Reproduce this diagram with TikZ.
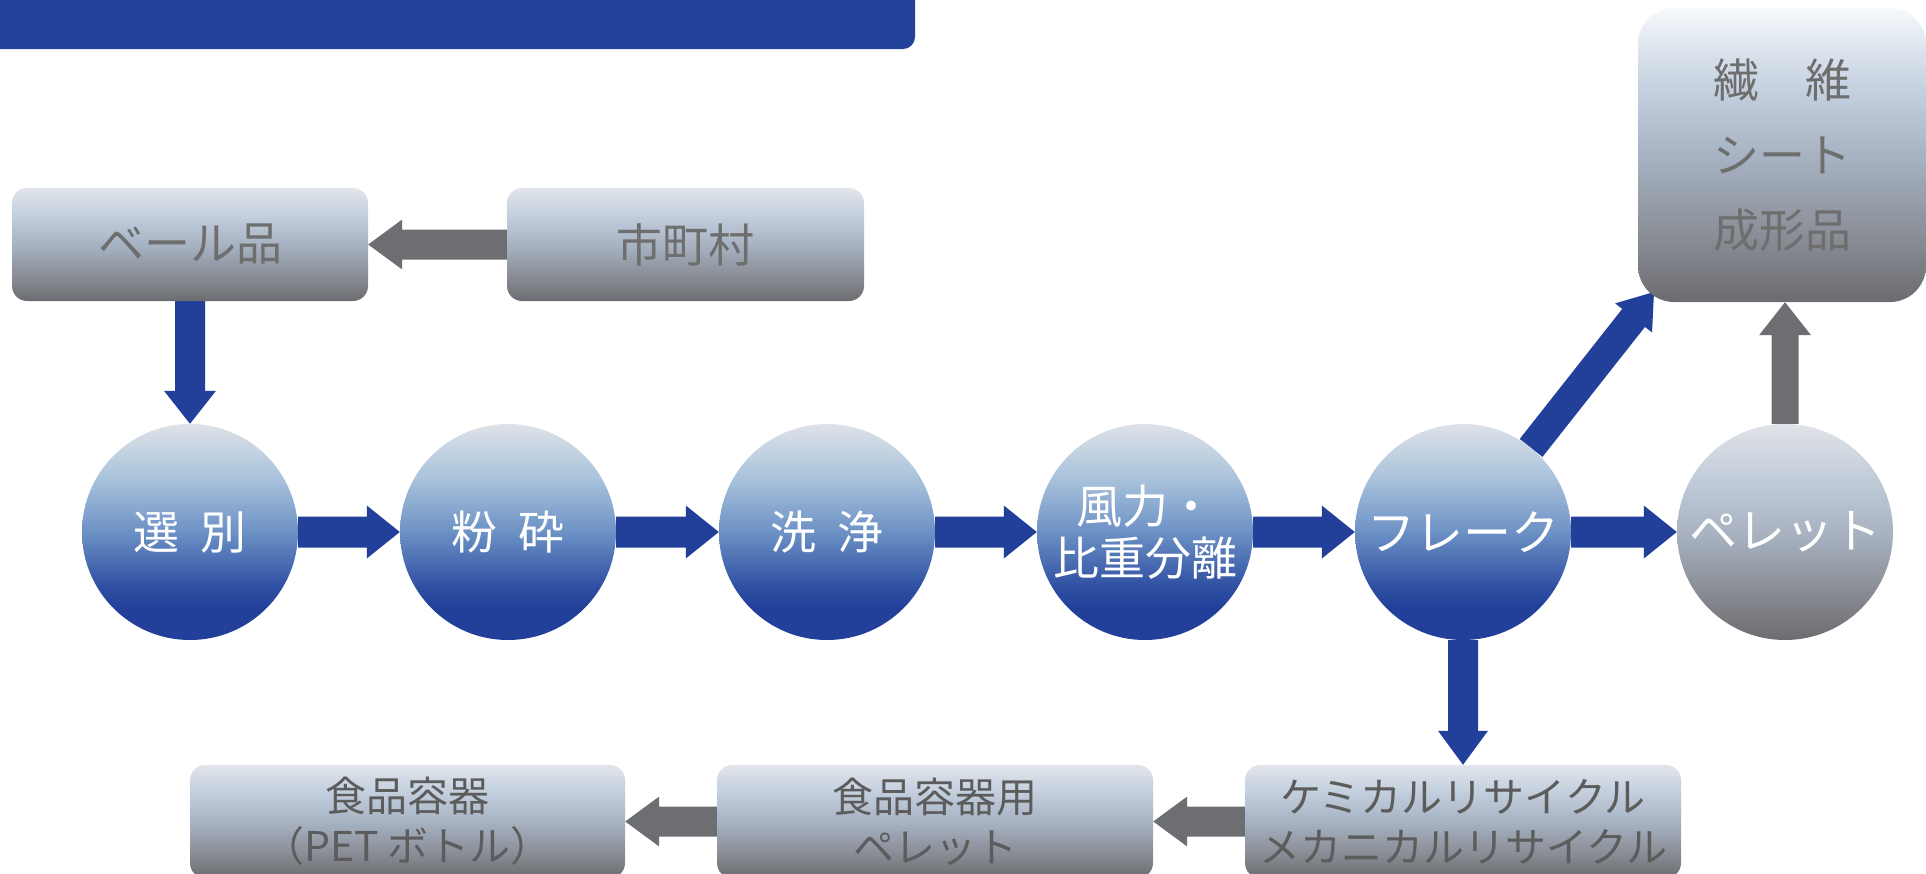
\documentclass[tikz,border=0pt]{standalone}
\usepackage{fontspec}
\setmainfont{Noto Sans CJK JP}
\usetikzlibrary{calc,backgrounds}

\definecolor{abl}{HTML}{22409A}
\definecolor{agr}{HTML}{6D6E71}
\definecolor{bannerblue}{HTML}{22419B}
\definecolor{gtext}{HTML}{6E6E6E}
\definecolor{gtextd}{HTML}{5C5C5C}
% gray box gradient
\definecolor{gb1}{HTML}{E2E5EA}
\definecolor{gb2}{HTML}{C7D3E1}
\definecolor{gb3}{HTML}{A7B3C3}
\definecolor{gb4}{HTML}{878A92}
\definecolor{gb5}{HTML}{6B6C70}
\definecolor{gw1}{HTML}{F6F8FB}
% blue circle gradient
\definecolor{bc1}{HTML}{DFE2E7}
\definecolor{bc2}{HTML}{A9C3DC}
\definecolor{bc3}{HTML}{6C91C5}
\definecolor{bc4}{HTML}{3050A3}
\definecolor{bc5}{HTML}{22409A}
% gray circle gradient
\definecolor{pc1}{HTML}{E0E3E8}
\definecolor{pc2}{HTML}{BDC8D6}
\definecolor{pc3}{HTML}{A3ADBB}
\definecolor{pc4}{HTML}{86888F}
\definecolor{pc5}{HTML}{6C6D70}

\pgfdeclareverticalshading{graybox}{100bp}{color(0bp)=(gb5); color(25bp)=(gb5); color(35bp)=(gb4); color(50bp)=(gb3); color(65bp)=(gb2); color(75bp)=(gb1); color(100bp)=(gb1)}
\pgfdeclareverticalshading{whitebox}{100bp}{color(0bp)=(gb5); color(25bp)=(gb5); color(35bp)=(gb4); color(50bp)=(gb3); color(62bp)=(gb2); color(75bp)=(gw1); color(100bp)=(gw1)}
\pgfdeclareverticalshading{bluecirc}{100bp}{color(0bp)=(bc5); color(25bp)=(bc5); color(32.5bp)=(bc5); color(37.5bp)=(bc4); color(50bp)=(bc3); color(62.5bp)=(bc2); color(75bp)=(bc1); color(100bp)=(bc1)}
\pgfdeclareverticalshading{graycirc}{100bp}{color(0bp)=(pc5); color(25bp)=(pc5); color(35bp)=(pc4); color(47.5bp)=(pc3); color(60bp)=(pc2); color(75bp)=(pc1); color(100bp)=(pc1)}

\newcommand\fatarrow[6]{%
  \coordinate (faA) at (#2);
  \coordinate (faB) at (#3);
  \coordinate (faH) at ($(faB)!#6!(faA)$);
  \fill[#1] ($(faA)!#4!90:(faB)$) -- ($(faH)!#4!90:(faB)$) -- ($(faH)!#5!90:(faB)$) -- (faB)
    -- ($(faH)!#5!-90:(faB)$) -- ($(faH)!#4!-90:(faB)$) -- ($(faA)!#4!-90:(faB)$) -- cycle;
}

\tikzset{
  gbox/.style={rectangle, rounded corners=15pt, shade, shading=graybox, inner sep=0pt, align=center, text=gtext},
  bcirc/.style={circle, minimum size=216pt, inner sep=0pt, shade, shading=bluecirc, text=white, align=center},
  pcirc/.style={circle, minimum size=216pt, inner sep=0pt, shade, shading=graycirc, text=white, align=center},
  topfont/.style={font=\fontsize{46}{52}\selectfont},
  botfont/.style={font=\fontsize{41}{50}\selectfont},
  circfont/.style={font=\fontsize{46}{52}\selectfont},
  barrow/.style={fill=abl},
  garrow/.style={fill=agr},
}

\begin{document}
\begin{tikzpicture}[x=1pt,y=-1pt]
\useasboundingbox (0,0) rectangle (1926,873);
\clip (0,0) rectangle (1926,873);

% banner
\fill[bannerblue, rounded corners=12pt] (-30,-30) rectangle (915,49);

% top boxes
\node[gbox, topfont, minimum width=356pt, minimum height=113pt] (bale) at (190,244.5) {ベール品};
\node[gbox, topfont, minimum width=357pt, minimum height=113pt] (city) at (685.5,244.5) {市町村};

% top right box
\node[rectangle, rounded corners=36pt, shade, shading=whitebox, inner sep=0pt, align=center, text=gtext,
      font=\fontsize{46}{75}\selectfont, minimum width=288pt, minimum height=294pt] (prod) at (1782,155) {繊　維\\シート\\成形品};

% circles
\node[bcirc, circfont] (sort) at (190,532) {選\hspace{22pt}別};
\node[bcirc, circfont] (crush) at (508,532) {粉\hspace{22pt}砕};
\node[bcirc, circfont] (wash) at (827,532) {洗\hspace{22pt}浄};
\node[bcirc, font=\fontsize{46}{52}\selectfont] (sep) at (1145,532) {風力・\\比重分離};
\node[bcirc, font=\fontsize{48}{52}\selectfont] (flake) at (1463,532) {フレーク};
\node[pcirc, font=\fontsize{48}{52}\selectfont] (pellet) at (1785,532) {ペレット};

% bottom boxes
\node[gbox, botfont, text=gtextd, minimum width=435pt, minimum height=113pt] (food) at (407.5,821.5) {食品容器\\（PET ボトル）};
\node[gbox, botfont, text=gtextd, minimum width=436pt, minimum height=113pt] (foodp) at (935,821.5) {食品容器用\\ペレット};
\node[gbox, botfont, text=gtextd, minimum width=436pt, minimum height=113pt] (chem) at (1463,821.5) {ケミカルリサイクル\\メカニカルリサイクル};

\coordinate (diagEnd) at (1654,292);

\begin{scope}[on background layer]
  \fatarrow{garrow}{city.west}{bale.east}{15pt}{25pt}{34pt}
  \fatarrow{barrow}{bale.south}{sort.north}{15pt}{26pt}{33pt}
  \fatarrow{barrow}{sort.east}{crush.west}{15.5pt}{26.5pt}{33pt}
  \fatarrow{barrow}{crush.east}{wash.west}{15.5pt}{26.5pt}{33pt}
  \fatarrow{barrow}{wash.east}{sep.west}{15.5pt}{26.5pt}{33pt}
  \fatarrow{barrow}{sep.east}{flake.west}{15.5pt}{26.5pt}{33pt}
  \fatarrow{barrow}{flake.east}{pellet.west}{15.5pt}{26.5pt}{33pt}
  \fatarrow{barrow}{flake.51}{diagEnd}{14.5pt}{23.5pt}{33pt}
  \fatarrow{garrow}{pellet.north}{pellet.north |- prod.south}{13.5pt}{26pt}{33pt}
  \fatarrow{barrow}{flake.south}{chem.north}{15pt}{25pt}{34pt}
  \fatarrow{garrow}{chem.west}{foodp.east}{15pt}{25pt}{34pt}
  \fatarrow{garrow}{foodp.west}{food.east}{15pt}{25pt}{34pt}
\end{scope}
\end{tikzpicture}
\end{document}
